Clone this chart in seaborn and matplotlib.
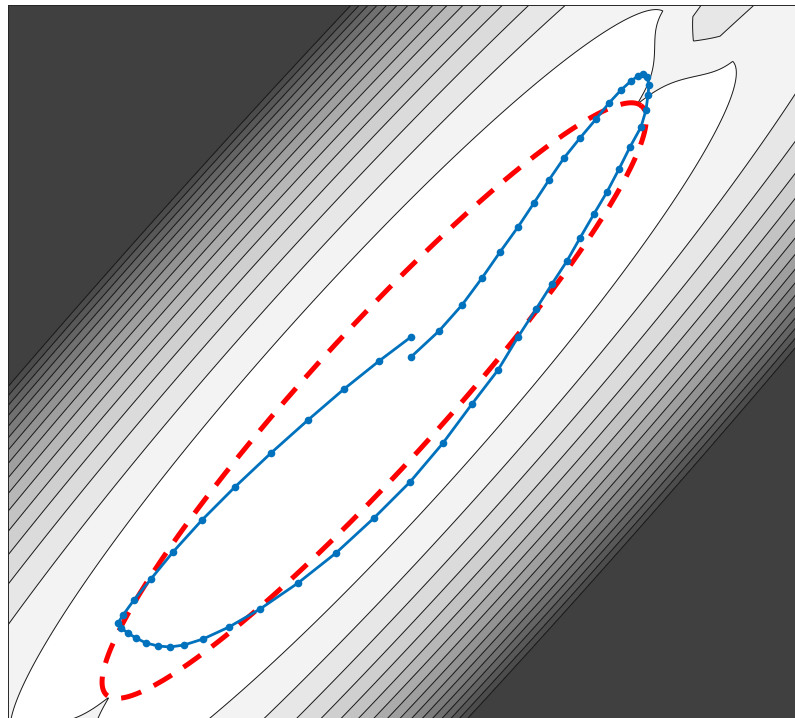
import numpy as np
import pandas as pd
import matplotlib
matplotlib.use("Agg")
import matplotlib.pyplot as plt
import seaborn as sns

# ---------------- data ----------------
# trajectory (data coordinates)
traj_x = [0.050, 0.332, 0.563, 0.764, 0.945, 1.126, 1.286, 1.437, 1.588, 1.749,
          1.910, 2.040, 2.161, 2.261, 2.332, 2.382, 2.422, 2.442, 2.432, 2.412,
          2.362, 2.251, 2.141, 2.020, 1.889, 1.749, 1.618, 1.467, 1.307, 1.126,
          0.925, 0.663, 0.372, 0.040, -0.322, -0.704, -1.085, -1.467, -1.779, -2.040,
          -2.231, -2.372, -2.492, -2.613, -2.714, -2.794, -2.864, -2.894, -2.844, -2.734,
          -2.563, -2.342, -2.050, -1.719, -1.357, -0.985, -0.623, -0.271, 0.050]
traj_y = [0.067, 0.358, 0.648, 0.950, 1.240, 1.520, 1.788, 2.045, 2.291, 2.514,
          2.726, 2.905, 3.050, 3.151, 3.207, 3.229, 3.196, 3.106, 2.994, 2.827,
          2.637, 2.413, 2.168, 1.911, 1.665, 1.397, 1.140, 0.883, 0.603, 0.291,
          -0.078, -0.458, -0.894, -1.330, -1.732, -2.123, -2.458, -2.749, -2.950, -3.084,
          -3.151, -3.173, -3.162, -3.128, -3.073, -3.017, -2.961, -2.905, -2.816, -2.648,
          -2.413, -2.112, -1.754, -1.385, -1.006, -0.637, -0.291, 0.022, 0.291]

# dashed ellipse (centre, semi-axes, orientation in degrees)
ell_center = (-0.32, -0.42)
ell_axes = (4.25, 0.70)
ell_angle = 50.9

# background: two parallel elongated valleys, ridge rising between their far ends
valley_center = (-0.33, -0.42)
valley_angle = 51.3
valley_offset = 0.43
valley_width = 0.739
valley_length = 5.22
ridge_start = 4.3
ridge_gain = 1.2
ridge_cap = 1.42
ridge_halfwidth = 0.45
contour_levels = [1.0, 2.04, 2.98, 3.85, 4.66, 5.44, 6.18, 6.89, 7.58, 8.25,
                  8.89, 9.53, 10.14, 10.74, 11.33, 11.91]
band_grays = [1.0, 0.953, 0.906, 0.859, 0.813, 0.766, 0.719, 0.672, 0.625,
              0.578, 0.531, 0.484, 0.438, 0.391, 0.344, 0.297, 0.25]
tick_vals = [-3, -2, -1, 0, 1, 2, 3]

# ---------------- figure ----------------
sns.set_theme(style="white")
fig = plt.figure(figsize=(7.95, 7.18), dpi=100)
ax = fig.add_axes([8 / 795, -3 / 718, 796 / 795, 716 / 718])

g = np.linspace(-4, 4, 1201)
X, Y = np.meshgrid(g, g)
th = np.deg2rad(valley_angle)
dx, dy = X - valley_center[0], Y - valley_center[1]
u = np.sin(th) * dx - np.cos(th) * dy
v = np.cos(th) * dx + np.sin(th) * dy
F = ((np.abs(u) - valley_offset) / valley_width) ** 2 + (v / valley_length) ** 2
hv = np.minimum(ridge_cap, ridge_gain * np.clip(np.abs(v) - ridge_start, 0, None) ** 3)
su = np.clip(1 - np.abs(u) / ridge_halfwidth, 0, 1)
F = F + hv * su

levels = [0.0] + contour_levels + [1e6]
colors = [str(c) for c in band_grays]
ax.contourf(X, Y, F, levels=levels, colors=colors)
ax.contour(X, Y, F, levels=contour_levels, colors="k", linewidths=0.7)

# dashed ellipse
t = np.linspace(0, 2 * np.pi, 400)
ea = np.deg2rad(ell_angle)
ex = ell_center[0] + ell_axes[0] * np.cos(t) * np.cos(ea) - ell_axes[1] * np.sin(t) * np.sin(ea)
ey = ell_center[1] + ell_axes[0] * np.cos(t) * np.sin(ea) + ell_axes[1] * np.sin(t) * np.cos(ea)
ell_df = pd.DataFrame({"x": ex, "y": ey})
sns.lineplot(data=ell_df, x="x", y="y", sort=False, ax=ax, color="red",
             linewidth=3.6, estimator=None)
ax.lines[-1].set_dashes((4.2, 2.8))

traj_df = pd.DataFrame({"x": traj_x, "y": traj_y})
sns.lineplot(data=traj_df, x="x", y="y", sort=False, ax=ax, color="#0072BD",
             linewidth=2.0, marker="o", markersize=5.5, markeredgewidth=0,
             estimator=None)

ax.set_xlim(-4, 4)
ax.set_ylim(-4, 4)
ax.set_xticks(tick_vals)
ax.set_yticks(tick_vals)
ax.set_xticklabels([])
ax.set_yticklabels([])
ax.set_xlabel("")
ax.set_ylabel("")
ax.tick_params(direction="in", length=6, width=0.7, color="#262626",
               top=True, right=True, bottom=True, left=True)
for s in ax.spines.values():
    s.set_color("#262626")
    s.set_linewidth(0.7)

fig.savefig("out.png", dpi=100)
